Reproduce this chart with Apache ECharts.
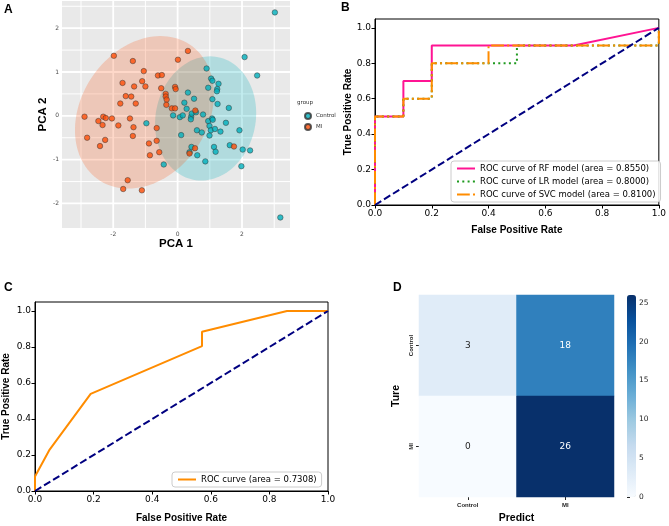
<!DOCTYPE html>
<html><head><meta charset="utf-8">
<script src="https://cdn.jsdelivr.net/npm/echarts@6/dist/echarts.min.js"></script>
<style>html,body{margin:0;padding:0;background:#fff}#c{width:669px;height:526px}</style>
</head><body><div id="c"></div><script>
// ---------- Panel A: PCA ----------
const pcaControl = [[3.02,2.36],[2.08,1.34],[2.47,0.92],[0.90,1.08],[1.04,0.85],[1.08,0.80],[1.27,0.73],[1.23,0.61],[1.22,0.56],[0.95,0.64],[0.32,0.53],[0.51,0.39],[1.08,0.38],[0.21,0.30],[0.28,0.16],[1.24,0.27],[1.59,0.18],[-0.14,0.01],[0.07,-0.03],[0.16,0.01],[0.42,-0.02],[0.41,-0.08],[0.44,0.05],[0.57,0.08],[0.79,0.03],[0.95,-0.12],[1.07,-0.06],[1.09,-0.09],[0.99,-0.23],[1.03,-0.33],[1.16,-0.30],[0.60,-0.33],[0.75,-0.38],[0.99,-0.45],[1.33,-0.36],[1.50,-0.16],[1.92,-0.33],[0.11,-0.44],[1.13,-0.71],[1.18,-0.82],[1.62,-0.67],[2.02,-0.77],[2.25,-0.79],[0.43,-0.71],[0.37,-0.83],[0.61,-0.90],[0.86,-1.04],[1.98,-1.15],[3.19,-2.32],[-0.97,-0.17],[-0.43,-1.11]];
const pcaMI = [[-1.98,1.37],[-1.39,1.25],[-1.05,1.02],[-1.71,0.75],[-1.10,0.79],[-0.61,0.92],[-0.49,0.93],[-1.35,0.67],[-1.00,0.67],[-0.51,0.63],[-1.61,0.45],[-1.44,0.44],[-1.78,0.28],[-1.30,0.28],[-0.37,0.50],[-0.37,0.44],[-0.34,0.37],[-0.35,0.25],[-0.08,0.66],[-0.06,0.61],[-0.18,0.17],[-0.08,0.17],[0.01,1.28],[0.32,1.48],[0.55,0.12],[-2.89,-0.02],[-2.46,-0.12],[-2.31,-0.02],[-2.23,-0.05],[-2.04,-0.06],[-1.48,-0.06],[-2.33,-0.21],[-1.84,-0.22],[-1.37,-0.26],[-2.81,-0.50],[-2.25,-0.55],[-2.41,-0.69],[-1.39,-0.46],[-0.65,-0.28],[-0.65,-0.57],[-0.89,-0.63],[-0.86,-0.90],[-0.57,-0.83],[-1.55,-1.47],[-1.69,-1.67],[-1.11,-1.70],[0.37,-0.86],[0.54,-0.74],[1.75,-0.70]];
const groupNames = ['Control','MI'];
// ellipse: center x, center y, conjugate semi-axis u (x,y), conjugate semi-axis v (x,y)
const ellipseMI = [-1.03,0.08,2.14,0.19,0.27,1.73];
const ellipseControl = [0.87,-0.06,1.57,0.14,-0.02,1.41];
const pcaXRange = [-3.59,3.49];
const pcaYRange = [-2.56,2.62];
const pcaXTicks = [-2,0,2];
const pcaYTicks = [-2,-1,0,1,2];
const pcaXMinor = [-3,-1,1,3];
const pcaYMinor = [-1.5,-0.5,0.5,1.5,2.5];

// ---------- Panel B: ROC of three models ----------
const rfFpr = [0,0,0.1,0.1,0.2,0.2,0.7,1.0];
const rfTpr = [0,0.5,0.5,0.7,0.7,0.9,0.9,1.0];
const lrFpr = [0,0,0.1,0.1,0.2,0.2,0.5,0.5,1.0,1.0];
const lrTpr = [0,0.5,0.5,0.6,0.6,0.8,0.8,0.9,0.9,1.0];
const svcFpr = [0,0,0.1,0.1,0.2,0.2,0.4,0.4,1.0,1.0];
const svcTpr = [0,0.5,0.5,0.6,0.6,0.8,0.8,0.9,0.9,1.0];
const modelNames = ['ROC curve of RF model (area = 0.8550)','ROC curve of LR model (area = 0.8000)','ROC curve of SVC model (area = 0.8100)'];

// ---------- Panel C: single ROC ----------
const cFpr = [0,0,0.05,0.19,0.57,0.57,0.86,1.0];
const cTpr = [0,0.08,0.23,0.54,0.805,0.885,1.0,1.0];
const cName = 'ROC curve (area = 0.7308)';
const diagonal = [0,1];
const rocTicks = [0,0.2,0.4,0.6,0.8,1.0];

// ---------- Panel D: confusion matrix ----------
const predictLabels = ['Control','MI'];
const trueLabels = ['Control','MI'];
const confusion = [[3,18],[0,26]];
const cbarTicks = [0,5,10,15,20,25];

const zip = (a,b)=>a.map((v,i)=>[v,b[i]]);
const blues = ['#f7fbff','#deebf7','#c6dbef','#9ecae1','#6baed6','#4292c6','#2171b5','#08519c','#08306b'];
const heatData = [];
confusion.forEach((row,i)=>row.forEach((v,j)=>heatData.push({value:[j,i,v],label:{color: v>13?'#ffffff':'#262626'}})));

const bold = {fontFamily:'Liberation Sans', fontWeight:'bold', color:'#000'};
const rocAxis = (grid, isX, name, gap)=>({
  gridIndex:grid, type:'value', min:0, max: isX?1:1.05,
  name:name, nameLocation:'middle', nameGap:gap, nameRotate: isX?0:90,
  nameTextStyle:Object.assign({fontSize:10},bold),
  axisLine:{show:true,lineStyle:{color:'#000',width:1}},
  axisTick:{show:true,length:3.5,lineStyle:{color:'#000'},customValues:rocTicks},
  axisLabel:{fontSize:9,color:'#000',margin:4,fontFamily:'DejaVu Sans',customValues:rocTicks,formatter:v=>v.toFixed(1)},
  splitLine:{show:false}
});

function ellipseItem(params, api){
  const cx=api.value(0), cy=api.value(1), ux=api.value(2), uy=api.value(3), vx=api.value(4), vy=api.value(5);
  const pts=[];
  for(let k=0;k<120;k++){const t=2*Math.PI*k/120;
    pts.push(api.coord([cx+ux*Math.cos(t)+vx*Math.sin(t), cy+uy*Math.cos(t)+vy*Math.sin(t)]));}
  return {type:'polygon', shape:{points:pts}, style:{fill: params.dataIndex===0?'rgba(0,175,187,0.24)':'rgba(252,78,7,0.22)'}};
}

// panel A background grid lines (ggplot style), each a 2-point line series through the axes
const gridSeries = [];
const addGrid = (coords,w)=>gridSeries.push({type:'line', xAxisIndex:0, yAxisIndex:0, data:coords, symbol:'none',
  silent:true, z:1, lineStyle:{color:'#ffffff', width:w, opacity:1}, emphasis:{disabled:true}});
pcaXMinor.forEach(v=>addGrid([[v,pcaYRange[0]],[v,pcaYRange[1]]],1.0));
pcaYMinor.forEach(v=>addGrid([[pcaXRange[0],v],[pcaXRange[1],v]],1.0));
pcaXTicks.forEach(v=>addGrid([[v,pcaYRange[0]],[v,pcaYRange[1]]],1.8));
pcaYTicks.forEach(v=>addGrid([[pcaXRange[0],v],[pcaXRange[1],v]],1.8));

const legendBox = {backgroundColor:'rgba(255,255,255,0.85)', borderColor:'#cccccc', borderWidth:1, borderRadius:3,
  padding:[3,5,3,5], itemWidth:18, itemHeight:8, textStyle:{fontSize:8.5,color:'#000'}, itemStyle:{opacity:0}};

const mainSeries = [
    {type:'custom', xAxisIndex:0, yAxisIndex:0, clip:true, silent:true, renderItem:ellipseItem, z:2,
     encode:{x:0,y:1}, data:[ellipseControl, ellipseMI]},
    {name:groupNames[0], type:'scatter', xAxisIndex:0, yAxisIndex:0, z:3, symbolSize:5.5, data:pcaControl,
     itemStyle:{color:'#00AFBB', borderColor:'#333', borderWidth:0.6}},
    {name:groupNames[1], type:'scatter', xAxisIndex:0, yAxisIndex:0, z:3, symbolSize:5.5, data:pcaMI,
     itemStyle:{color:'#FC4E07', borderColor:'#333', borderWidth:0.6}},
    {name:modelNames[0], type:'line', xAxisIndex:1, yAxisIndex:1, data:zip(rfFpr,rfTpr), symbol:'none',
     lineStyle:{color:'#ff1493', width:2}, itemStyle:{color:'#ff1493'}},
    {name:modelNames[1], type:'line', xAxisIndex:1, yAxisIndex:1, data:zip(lrFpr,lrTpr), symbol:'none',
     lineStyle:{color:'#1f9a1f', width:2, type:[2,3.3]}, itemStyle:{color:'#1f9a1f'}},
    {name:modelNames[2], type:'line', xAxisIndex:1, yAxisIndex:1, data:zip(svcFpr,svcTpr), symbol:'none',
     lineStyle:{color:'#ff8c00', width:2, type:[12.8,3.2,2,3.2]}, itemStyle:{color:'#ff8c00'}},
    {type:'line', xAxisIndex:1, yAxisIndex:1, data:zip(diagonal,diagonal), symbol:'none',
     lineStyle:{color:'#000080', width:2, type:[7.4,3.2]}},
    {name:cName, type:'line', xAxisIndex:2, yAxisIndex:2, data:zip(cFpr,cTpr), symbol:'none',
     lineStyle:{color:'#ff8c00', width:2}, itemStyle:{color:'#ff8c00'}},
    {type:'line', xAxisIndex:2, yAxisIndex:2, data:zip(diagonal,diagonal), symbol:'none',
     lineStyle:{color:'#000080', width:2, type:[7.4,3.2]}},
    {id:'heat', type:'heatmap', xAxisIndex:3, yAxisIndex:3, data:heatData,
     label:{show:true, fontSize:9, formatter:p=>String(p.value[2])}, itemStyle:{borderWidth:0}},
    {type:'scatter', xAxisIndex:4, yAxisIndex:4, data:[]}
];
const allSeries = gridSeries.concat(mainSeries);
const heatIndex = allSeries.findIndex(s=>s.id==='heat');

const option = {
  animation:false,
  textStyle:{fontFamily:'DejaVu Sans'},
  grid:[
    {left:62, top:1, width:228, height:227, show:true, backgroundColor:'#e9e9e9', borderWidth:0, z:0},
    {left:375, top:19, width:286, height:186, show:true, borderColor:'#000', borderWidth:1},
    {left:34, top:302, width:294, height:189, show:true, borderColor:'#000', borderWidth:1},
    {left:419, top:295, width:195, height:202},
    {left:627, top:295, width:9, height:202}
  ],
  xAxis:[
    {gridIndex:0, type:'value', min:pcaXRange[0], max:pcaXRange[1], name:'PCA 1', nameLocation:'middle', nameGap:10,
     nameTextStyle:Object.assign({fontSize:11.5},bold),
     axisLine:{show:false}, axisTick:{show:true,length:2.5,lineStyle:{color:'#333'},customValues:pcaXTicks},
     axisLabel:{fontSize:6,color:'#4d4d4d',margin:3,customValues:pcaXTicks}, splitLine:{show:false}},
    rocAxis(1,true,'False Positive Rate',20),
    rocAxis(2,true,'False Positive Rate',22),
    {gridIndex:3, type:'category', data:predictLabels, name:'Predict', nameLocation:'middle', nameGap:16,
     nameTextStyle:Object.assign({fontSize:10.5},bold),
     axisLine:{show:false}, axisTick:{show:true,alignWithLabel:true,length:3,lineStyle:{color:'#262626'}},
     axisLabel:{fontSize:6,color:'#262626',fontFamily:'Liberation Sans',fontWeight:'bold',margin:5}, splitArea:{show:false}},
    {gridIndex:4, type:'value', show:false, min:0, max:1}
  ],
  yAxis:[
    {gridIndex:0, type:'value', min:pcaYRange[0], max:pcaYRange[1], name:'PCA 2', nameLocation:'middle', nameGap:6, nameRotate:90,
     nameTextStyle:Object.assign({fontSize:11.5},bold),
     axisLine:{show:false}, axisTick:{show:true,length:2.5,lineStyle:{color:'#333'},customValues:pcaYTicks},
     axisLabel:{fontSize:6,color:'#4d4d4d',margin:3,customValues:pcaYTicks}, splitLine:{show:false}},
    rocAxis(1,false,'True Positive Rate',22),
    rocAxis(2,false,'True Positive Rate',24),
    {gridIndex:3, type:'category', data:trueLabels, inverse:true, name:'Ture', nameLocation:'middle', nameGap:17, nameRotate:90,
     nameTextStyle:Object.assign({fontSize:10.5},bold),
     axisLine:{show:false}, axisTick:{show:true,alignWithLabel:true,length:3,lineStyle:{color:'#262626'}},
     axisLabel:{fontSize:6,color:'#262626',rotate:90,fontFamily:'Liberation Sans',fontWeight:'bold',margin:5}, splitArea:{show:false}},
    {gridIndex:4, type:'value', position:'right', min:0, max:26,
     axisLine:{show:false}, axisTick:{show:true,length:3,lineStyle:{color:'#262626'},customValues:cbarTicks},
     axisLabel:{fontSize:7.5,color:'#262626',margin:3,customValues:cbarTicks}, splitLine:{show:false}}
  ],
  legend:[
    {data:groupNames, left:299, top:107, orient:'vertical', icon:'circle', itemWidth:6, itemHeight:6, itemGap:3,
     textStyle:{fontSize:5.5,color:'#333'}},
    Object.assign({data:modelNames, left:451, top:161, orient:'vertical', itemGap:4}, legendBox),
    Object.assign({data:[cName], left:172, top:472, orient:'vertical'}, legendBox)
  ],
  visualMap:{type:'continuous', seriesIndex:heatIndex, min:0, max:26, calculable:false, orient:'vertical',
    left:627, top:295, itemWidth:9, itemHeight:202, text:null, showLabel:false, padding:0, hoverLink:false,
    inRange:{color:blues}},
  graphic:[
    {type:'text', left:4, top:4, style:{text:'A', font:'bold 12px Liberation Sans', fill:'#000'}},
    {type:'text', left:341, top:2, style:{text:'B', font:'bold 12px Liberation Sans', fill:'#000'}},
    {type:'text', left:4, top:282, style:{text:'C', font:'bold 12px Liberation Sans', fill:'#000'}},
    {type:'text', left:393, top:282, style:{text:'D', font:'bold 12px Liberation Sans', fill:'#000'}},
    {type:'text', left:297, top:100, style:{text:'group', font:'5.5px DejaVu Sans', fill:'#333'}}
  ],
  series:allSeries
};
const chart = echarts.init(document.getElementById('c'), null, {renderer:'canvas'});
chart.setOption(option);
</script></body></html>
